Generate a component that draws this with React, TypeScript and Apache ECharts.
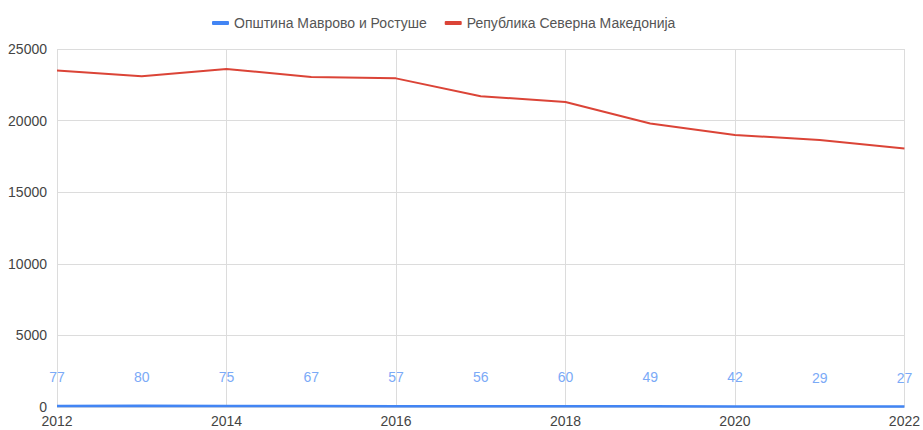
import React, { useEffect, useRef } from "react";
import * as echarts from "echarts";

const years = [2012, 2013, 2014, 2015, 2016, 2017, 2018, 2019, 2020, 2021, 2022];
const mavrovo = [77, 80, 75, 67, 57, 56, 60, 49, 42, 29, 27];
const republika = [23500, 23100, 23600, 23050, 22950, 21700, 21300, 19800, 19000, 18650, 18050];
const seriesNames = ["Општина Маврово и Ростуше", "Република Северна Македонија"];

export default function App() {
  const ref = useRef<HTMLDivElement>(null);
  useEffect(() => {
    document.body.style.margin = "0";
    if (!ref.current) return;
    const chart = echarts.init(ref.current, undefined, { renderer: "svg" });
    const font = "Arial, 'Liberation Sans', sans-serif";
    chart.setOption({
      animation: false,
      textStyle: { fontFamily: font },
      legend: {
        top: 11,
        left: 207,
        itemWidth: 17,
        itemHeight: 4,
        itemGap: 18,
        icon: "roundRect",
        textStyle: { color: "#555", fontSize: 14, fontFamily: font },
        data: seriesNames,
      },
      grid: { left: 57, right: 18, top: 49, bottom: 23, containLabel: false },
      xAxis: {
        type: "value",
        min: 2012,
        max: 2022,
        interval: 2,
        axisLine: { show: false },
        axisTick: { show: false },
        axisLabel: {
          color: "#444",
          fontSize: 14,
          margin: 7,
          fontFamily: font,
          formatter: (v: number) => String(v),
        },
        splitLine: { show: true, lineStyle: { color: "#dcdcdc" } },
      },
      yAxis: {
        type: "value",
        min: 0,
        max: 25000,
        interval: 5000,
        axisLine: { show: false },
        axisTick: { show: false },
        axisLabel: {
          color: "#444",
          fontSize: 14,
          margin: 10,
          fontFamily: font,
          formatter: (v: number) => String(v),
        },
        splitLine: { show: true, lineStyle: { color: "#dcdcdc" } },
      },
      series: [
        {
          name: seriesNames[0],
          type: "line",
          data: years.map((y, i) => [y, mavrovo[i]]),
          symbol: "circle",
          symbolSize: 0,
          showSymbol: true,
          lineStyle: { color: "#4285f4", width: 2.5 },
          itemStyle: { color: "#4285f4" },
          label: {
            show: true,
            position: "top",
            distance: 22,
            color: "#7baaf7",
            fontSize: 14,
            fontFamily: font,
            formatter: (p: any) => String(p.value[1]),
          },
          z: 3,
        },
        {
          name: seriesNames[1],
          type: "line",
          data: years.map((y, i) => [y, republika[i]]),
          symbol: "none",
          lineStyle: { color: "#db4437", width: 2 },
          itemStyle: { color: "#db4437" },
          z: 2,
        },
      ],
    });
    return () => chart.dispose();
  }, []);
  return <div ref={ref} style={{ width: 923, height: 430 }} />;
}
